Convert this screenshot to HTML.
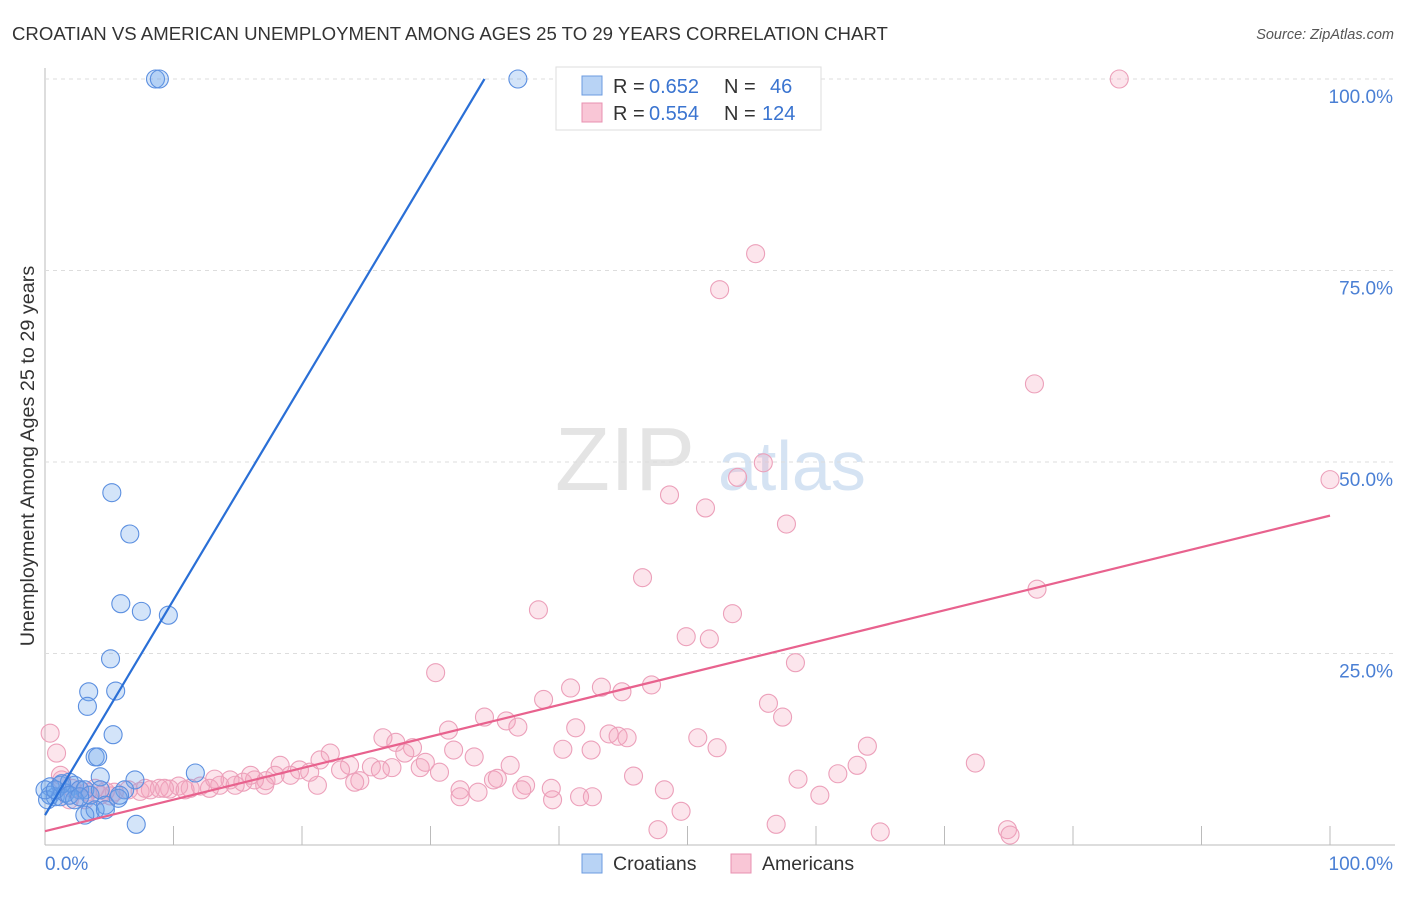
<!DOCTYPE html>
<html><head><meta charset="utf-8"><style>
body{margin:0;background:#fff;font-family:"Liberation Sans",sans-serif}
svg text{font-family:"Liberation Sans",sans-serif}
</style></head><body>
<svg id="c" width="1406" height="892">
<text x="12" y="40" font-size="18.6" fill="#333">CROATIAN VS AMERICAN UNEMPLOYMENT AMONG AGES 25 TO 29 YEARS CORRELATION CHART</text>
<text x="1394" y="39" font-size="14.5" fill="#555" font-style="italic" text-anchor="end">Source: ZipAtlas.com</text>
<g><text x="555" y="490" font-size="90" fill="#e4e4e4" font-family="Liberation Serif">ZIP</text><text x="718" y="490" font-size="70" fill="#d5e3f3">atlas</text></g>
<g id="grid"></g><g id="pts"></g><g id="lines"></g>
<text transform="translate(34,456) rotate(-90)" font-size="19.8" fill="#333" text-anchor="middle">Unemployment Among Ages 25 to 29 years</text>
<g>
<rect x="556" y="67" width="265" height="63" fill="#fff" stroke="#ddd"/>
<rect x="582" y="76" width="20" height="19" fill="#b8d3f5" stroke="#6b9be0"/>
<rect x="582" y="103" width="20" height="19" fill="#f9c6d6" stroke="#e890b0"/>
<text x="613" y="93" font-size="20" fill="#333">R =</text><text x="649" y="93" font-size="20" fill="#3a74d0">0.652</text>
<text x="724" y="93" font-size="20" fill="#333">N =</text><text x="770" y="93" font-size="20" fill="#3a74d0">46</text>
<text x="613" y="120" font-size="20" fill="#333">R =</text><text x="649" y="120" font-size="20" fill="#3a74d0">0.554</text>
<text x="724" y="120" font-size="20" fill="#333">N =</text><text x="762" y="120" font-size="20" fill="#3a74d0">124</text>
</g>
<g>
<rect x="582" y="854" width="20" height="19" fill="#b8d3f5" stroke="#6b9be0"/><text x="613" y="870" font-size="19.5" fill="#333">Croatians</text>
<rect x="731" y="854" width="20" height="19" fill="#f9c6d6" stroke="#e890b0"/><text x="762" y="870" font-size="19.5" fill="#333">Americans</text>
</g>
</svg>
<script>
const blueX=[8.6,8.9,36.8,5.2,6.6,5.9,7.5,9.6,5.1,3.4,5.5,3.3,5.3,3.9,4.1,4.3,11.7,7.0,0.4,1.2,1.9,2.3,2.7,0.4,0.8,0.2,1.2,1.6,3.1,3.5,6.2,4.3,5.7,4.7,3.5,3.9,4.7,3.1,7.1,2.3,1.3,0,0.8,5.8,1.9,2.7];
const blueY=[100,100,100,46.0,40.6,31.5,30.5,30.0,24.3,20.0,20.1,18.1,14.4,11.5,11.5,8.9,9.4,8.5,7.6,7.8,8.2,7.8,7.2,6.5,6.3,5.9,6.3,6.8,7.2,6.5,7.2,7.2,6.1,5.2,4.3,4.6,4.6,3.9,2.7,5.9,8.0,7.2,7.2,6.5,6.5,6.3];
const pinkX=[83.6,55.3,52.5,77.0,100,55.9,53.9,48.6,51.4,57.7,46.5,77.2,38.4,53.5,49.9,51.7,58.4,30.4,40.9,43.3,38.8,44.9,47.2,56.3,57.4,0.4,0.9,34.2,35.9,36.8,31.4,41.3,43.9,44.6,45.3,26.3,27.3,28.6,28.0,50.8,52.3,64.0,22.2,23.7,25.4,31.8,33.4,40.3,42.5,63.2,72.4,61.7,45.8,48.2,58.6,60.3,32.3,34.9,35.2,36.2,30.7,29.2,29.6,27.0,26.1,24.5,24.1,21.2,19.8,19.1,18.3,17.2,16.3,15.4,14.4,13.6,12.8,12.1,11.3,10.4,9.7,8.9,8.2,7.4,6.5,5.4,4.7,3.9,3.3,2.7,2.1,1.3,1.2,1.9,3.1,4.3,5.1,17.9,20.6,16.0,13.2,32.3,33.7,37.4,37.1,39.5,41.6,42.6,39.4,47.7,49.5,56.9,65.0,74.9,75.1,21.4,23.0,17.1,14.8,10.9,9.3,7.8];
const pinkY=[100,77.2,72.5,60.2,47.7,49.9,48.0,45.7,44.0,41.9,34.9,33.4,30.7,30.2,27.2,26.9,23.8,22.5,20.5,20.6,19.0,20.0,20.9,18.5,16.7,14.6,12.0,16.7,16.2,15.4,15.0,15.3,14.5,14.2,14.0,14.0,13.4,12.7,12.0,14.0,12.7,12.9,12.0,10.4,10.2,12.4,11.5,12.5,12.4,10.4,10.7,9.3,9.0,7.2,8.6,6.5,7.2,8.5,8.7,10.4,9.5,10.1,10.8,10.1,9.8,8.4,8.2,7.8,9.8,9.1,10.4,8.4,8.5,8.2,8.5,7.8,7.4,7.7,7.4,7.7,7.3,7.4,7.2,7.0,7.2,6.9,7.0,7.4,6.9,7.2,7.4,8.5,9.1,5.9,5.9,6.5,6.4,9.1,9.5,9.1,8.6,6.3,6.9,7.8,7.2,5.9,6.3,6.3,7.4,2.0,4.4,2.7,1.7,2.0,1.3,11.1,9.8,7.8,7.8,7.2,7.4,7.4];
const blueLine=[0,3.9,34.2,100];
const pinkLine=[0,1.8,100,43.0];
const yTicks=[25,50,75,100];
const xTicks=[0,10,20,30,40,50,60,70,80,90,100];
const X=v=>45+v*12.85, Y=v=>845-v*7.66;
const NS='http://www.w3.org/2000/svg';
function mk(p,t,a){const e=document.createElementNS(NS,t);for(const k in a)e.setAttribute(k,a[k]);p.appendChild(e);return e;}
const g=document.getElementById('grid'),P=document.getElementById('pts'),L=document.getElementById('lines');
let ax=mk(g,'line',{x1:45,y1:68,x2:45,y2:845,stroke:'#bbb'});


let bx=mk(g,'line',{x1:45,y1:845,x2:1395,y2:845,stroke:'#bbb'});


yTicks.forEach(t=>{const l=mk(g,'line',{x1:45,x2:1395,y1:Y(t),y2:Y(t),stroke:'#ddd','stroke-dasharray':'4,4'});


const tx=mk(g,'text',{x:1393,y:Y(t)+24,'font-size':19,fill:'#4a7fd4','text-anchor':'end'});tx.textContent=t.toFixed(1)+'%';

});
xTicks.forEach(t=>{if(t===0)return;const l=mk(g,'line',{x1:X(t),x2:X(t),y1:826,y2:845,stroke:'#bbb'});

});
[[0,'0.0%','start',45],[100,'100.0%','end',1393]].forEach(a=>{const tx=mk(g,'text',{x:a[3],y:870,'font-size':19,fill:'#4a7fd4','text-anchor':a[2]});tx.textContent=a[1];

});
pinkX.forEach((v,i)=>{const c=mk(P,'circle',{cx:X(v),cy:Y(pinkY[i]),r:9,fill:'rgba(244,160,188,0.28)',stroke:'#eca0ba','stroke-width':1.1});

});
blueX.forEach((v,i)=>{const c=mk(P,'circle',{cx:X(v),cy:Y(blueY[i]),r:9,fill:'rgba(110,165,235,0.3)',stroke:'#5b8fe0','stroke-width':1.1});

});
let bl=mk(L,'line',{x1:X(blueLine[0]),y1:Y(blueLine[1]),x2:X(blueLine[2]),y2:Y(blueLine[3]),stroke:'#2a6fd6','stroke-width':2.2});


let pl=mk(L,'line',{x1:X(pinkLine[0]),y1:Y(pinkLine[1]),x2:X(pinkLine[2]),y2:Y(pinkLine[3]),stroke:'#e8628e','stroke-width':2.2});


</script>
</body></html>
